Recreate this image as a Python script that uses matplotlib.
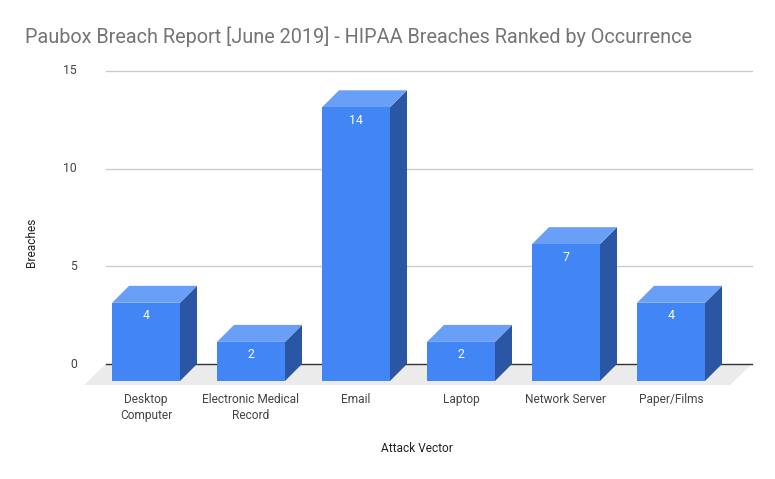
import matplotlib
matplotlib.use("Agg")
import matplotlib.pyplot as plt
from matplotlib.patches import Polygon

plt.rcParams['font.family'] = ['Roboto', 'DejaVu Sans']

categories = ["Desktop\nComputer", "Electronic Medical\nRecord", "Email", "Laptop",
              "Network Server", "Paper/Films"]
breaches = [4, 2, 14, 2, 7, 4]
y_ticks = [0, 5, 10, 15]

FRONT = "#4285f4"
TOP = "#699ff6"
SIDE = "#2a56a3"

W, H = 775, 479
fig = plt.figure(figsize=(W / 100, H / 100), dpi=100)
ax = fig.add_axes([0, 0, 1, 1])

# pixel geometry of the fake 3D plot
x0_px, step_px = 146, 105          # center of first bar, spacing
y0_px, unit_px = 381, 19.55        # front-face baseline (from top), px per breach
ax.set_xlim(-x0_px / step_px, (W - x0_px) / step_px)
ax.set_ylim(-(H - y0_px) / unit_px, y0_px / unit_px)
ax.axis("off")

half = 34 / step_px                # half bar width
dx, dy = 17 / step_px, 17 / unit_px  # depth offset
fl_dx, fl_dy = 22 / step_px, 21 / unit_px

# floor
left = (106 - x0_px) / step_px
right = (752 - x0_px) / step_px
ax.add_patch(Polygon([(left, dy), (right, dy), (right - fl_dx, dy - fl_dy),
                      (left - fl_dx, dy - fl_dy)], closed=True,
                     facecolor="#ebebeb", edgecolor="none", zorder=1))

# gridlines on back plane
for t in y_ticks:
    ax.plot([left, right], [t + dy, t + dy], color="#333333" if t == 0 else "#cccccc",
            lw=1.0, zorder=2)
    ax.text(left - 29 / step_px, t + dy, str(t), ha="right", va="center",
            fontsize=8.8, color="#444444")

# bars
for i, v in enumerate(breaches):
    xl, xr = i - half, i + half
    ax.add_patch(Polygon([(xr, 0), (xr + dx, dy), (xr + dx, v + dy), (xr, v)],
                         closed=True, facecolor=SIDE, edgecolor="none", zorder=3))
    ax.add_patch(Polygon([(xl, v), (xr, v), (xr + dx, v + dy), (xl + dx, v + dy)],
                         closed=True, facecolor=TOP, edgecolor="none", zorder=3))
    ax.add_patch(Polygon([(xl, 0), (xr, 0), (xr, v), (xl, v)],
                         closed=True, facecolor=FRONT, edgecolor="none", zorder=4))
    ax.text(i, v - 13 / unit_px, str(v), ha="center", va="center", fontsize=8.8,
            color="white", zorder=5)
    ax.text(i, -12 / unit_px, categories[i], ha="center", va="top", fontsize=8.6,
            color="#444444", linespacing=1.3)

fig.text(417 / W, 1 - 448 / H, "Attack Vector", ha="center", va="center",
         fontsize=8.6, color="#222222")
fig.text(32 / W, 1 - 242 / H, "Breaches", ha="center", va="center", rotation=90,
         fontsize=8.6, color="#222222")
fig.text(25 / W, 1 - 37 / H,
         "Paubox Breach Report [June 2019] - HIPAA Breaches Ranked by Occurrence",
         ha="left", va="center", fontsize=14.3, color="#757575")

fig.savefig("out.png", dpi=100)
